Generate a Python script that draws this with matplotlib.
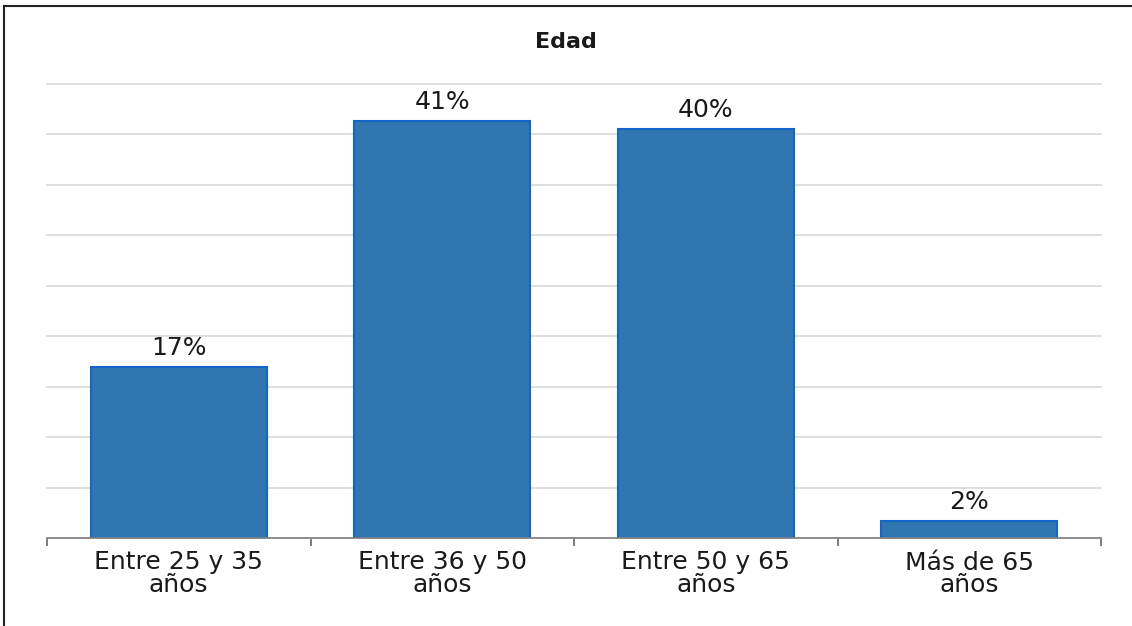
import numpy as np
import matplotlib.pyplot as plt
from matplotlib.lines import Line2D

# Data
categories = ["Entre 25 y 35\naños", "Entre 36 y 50\naños", "Entre 50 y 65\naños", "Más de 65\naños"]
values = [16.9, 41.3, 40.5, 1.7]
labels = ["17%", "41%", "40%", "2%"]

fig = plt.figure(figsize=(11.32, 6.26), dpi=100)
ax = fig.add_axes([47 / 1132, 1 - 538 / 626, (1101 - 47) / 1132, (538 - 84) / 626])

x = np.arange(len(categories))
ax.bar(x, values, width=0.668, color="#3076B0", edgecolor="#1565C8", linewidth=1.5, zorder=3)

for xi, v, lab in zip(x, values, labels):
    ax.text(xi, v + 0.7, lab, ha="center", va="bottom", fontsize=18, color="#1a1a1a")

ax.set_xlim(-0.5, len(categories) - 0.5)
ax.set_ylim(0, 45)
ax.set_yticks(np.arange(0, 46, 5))
ax.yaxis.grid(True, color="#d9d9d9", linewidth=1.2, zorder=0)
for gl in ax.get_ygridlines():
    gl.set_clip_on(False)
ax.tick_params(axis="y", length=0, labelleft=False)

ax.set_xticks(x)
ax.set_xticklabels(categories, fontsize=18, color="#1a1a1a", linespacing=0.9)
ax.tick_params(axis="x", which="major", length=0, pad=9)
ax.set_xticks(np.arange(-0.5, len(categories), 1), minor=True)
ax.tick_params(axis="x", which="minor", length=6, width=1.2, color="#666666")

for side in ["left", "right", "top"]:
    ax.spines[side].set_visible(False)
ax.spines["bottom"].set_color("#808080")
ax.spines["bottom"].set_linewidth(1.2)
ax.spines["bottom"].set_zorder(4)

fig.text(0.5, 1 - 42 / 626, "Edad", ha="center", va="center", fontsize=16, fontweight="bold", color="#1a1a1a")

# figure frame (left and top edges visible in the reference)
fig.add_artist(Line2D([4 / 1132, 4 / 1132], [0, 1 - 6 / 626], color="#222222", linewidth=1.5))
fig.add_artist(Line2D([4 / 1132, 1], [1 - 6 / 626, 1 - 6 / 626], color="#222222", linewidth=1.5))

fig.savefig("out.png", dpi=100)
